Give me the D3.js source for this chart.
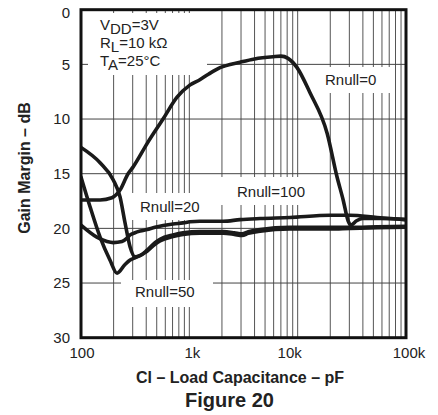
<!DOCTYPE html>
<html><head><meta charset="utf-8">
<script src="https://cdn.jsdelivr.net/npm/d3@7"></script>
<style>
html,body{margin:0;padding:0;background:#fff;}
svg{display:block;font-family:"Liberation Sans",Arial,sans-serif;}
</style></head>
<body><svg id="chart" width="438" height="415"></svg>
<script>
// ---- data ----
const xTickValues = [100, 1000, 10000, 100000];
const xTickLabels = ["100", "1k", "10k", "100k"];
const yTickValues = [0, 5, 10, 15, 20, 25, 30];
const yTickLabels = ["0", "5", "10", "15", "20", "25", "30"];

const capRnull0 = [100, 150, 193, 229, 272, 302, 410, 572, 770, 1010, 1250, 1500, 1920, 2940, 4000, 5930, 7000, 8150, 9870, 13000, 18700, 23100, 26300, 29200, 31000, 35000, 40000, 57700, 100000];
const gainRnull0 = [17.4, 17.4, 17.2, 16.5, 15.0, 14.4, 12.2, 10.0, 8.0, 6.9, 6.4, 5.9, 5.3, 4.8, 4.5, 4.3, 4.25, 4.45, 5.3, 7.6, 11.3, 15.3, 17.4, 19.3, 19.7, 19.3, 19.1, 19.1, 19.2];

const capRnull20 = [100, 140, 174, 198, 239, 266, 284, 315, 351, 407, 482, 707, 874, 1015, 1250, 2050, 2940, 4500, 8500, 19900, 30500, 54100, 100000];
const gainRnull20 = [19.7, 20.8, 21.2, 21.3, 21.2, 20.9, 20.6, 20.4, 20.25, 20.1, 19.9, 19.6, 19.5, 19.4, 19.35, 19.35, 19.2, 19.1, 19.0, 18.8, 18.8, 19.0, 19.2];

const capRnull50 = [100, 121, 150, 185, 215, 255, 284, 315, 407, 482, 536, 707, 874, 1250, 2050, 2600, 3070, 3500, 4500, 8500, 19900, 30500, 54100, 100000];
const gainRnull50 = [15.3, 18.0, 20.8, 22.9, 24.1, 23.3, 22.9, 22.7, 22.1, 21.45, 21.15, 20.75, 20.55, 20.45, 20.45, 20.55, 20.65, 20.45, 20.25, 20.05, 20.05, 20.0, 19.95, 19.9];

const capRnull100 = [100, 150, 198, 229, 255, 284, 315, 350, 407, 482, 536, 707, 874, 1250, 2050, 2600, 3070, 3500, 4500, 8500, 19900, 30500, 54100, 100000];
const gainRnull100 = [12.6, 14.0, 15.55, 17.1, 19.5, 21.7, 22.6, 22.5, 22.0, 21.3, 21.0, 20.6, 20.4, 20.3, 20.3, 20.4, 20.5, 20.3, 20.1, 19.9, 19.9, 19.9, 19.85, 19.8];

const seriesNames = ["Rnull=0", "Rnull=20", "Rnull=50", "Rnull=100"];
const conditionLines = [["V", "DD", "=3V"], ["R", "L", "=10 kΩ"], ["T", "A", "=25°C"]];
const xTitle = "Cl – Load Capacitance – pF";
const yTitle = "Gain Margin – dB";
const figTitle = "Figure 20";

// ---- layout ----
const L = 81, R = 406, T = 9.7, B = 337.7;
const svg = d3.select("#chart");
const x = d3.scaleLog().domain([100, 100000]).range([L, R]);
const y = d3.scaleLinear().domain([0, 30]).range([T, B]);

// grid
const gridX = [];
[100, 1000, 10000].forEach(d => { for (let m = 1; m <= 9; m++) { const v = d * m; if (v > 100) gridX.push(v); } });
const grid = svg.append("g");
grid.selectAll("line.v").data(gridX).join("line")
  .attr("x1", d => x(d)).attr("x2", d => x(d)).attr("y1", T).attr("y2", B)
  .attr("stroke", "#555").attr("stroke-width", 1);
grid.selectAll("line.h").data([5, 10, 15, 20, 25]).join("line")
  .attr("x1", L).attr("x2", R).attr("y1", d => y(d)).attr("y2", d => y(d))
  .attr("stroke", "#444").attr("stroke-width", 1);

// white label boxes covering the grid
const boxes = [
  [88, 13, 119, 62],
  [320, 67, 73, 26],
  [208, 177, 114, 28],
  [125, 193, 87, 27],
  [121, 280, 92, 27]
];
svg.append("g").selectAll("rect").data(boxes).join("rect")
  .attr("x", d => d[0]).attr("y", d => d[1]).attr("width", d => d[2]).attr("height", d => d[3])
  .attr("fill", "#fff");

// curves
svg.append("clipPath").attr("id", "clip").append("rect")
  .attr("x", L).attr("y", T).attr("width", R - L).attr("height", B - T);
const series = [
  [capRnull0, gainRnull0],
  [capRnull20, gainRnull20],
  [capRnull50, gainRnull50],
  [capRnull100, gainRnull100]
].map(([c, g]) => c.map((v, i) => [v, g[i]]));
const line = d3.line().x(d => x(d[0])).y(d => y(d[1])).curve(d3.curveMonotoneX);
svg.append("g").attr("clip-path", "url(#clip)").selectAll("path").data(series).join("path")
  .attr("d", line).attr("fill", "none").attr("stroke", "#1a1a1a")
  .attr("stroke-width", 3.6).attr("stroke-linejoin", "round").attr("stroke-linecap", "round");

// frame
svg.append("rect").attr("x", L).attr("y", T).attr("width", R - L).attr("height", B - T)
  .attr("fill", "none").attr("stroke", "#111").attr("stroke-width", 3);

// series labels
const labelPos = [[325, 80], [140, 207], [135, 292], [237, 192]];
svg.append("g").selectAll("text").data(seriesNames).join("text")
  .attr("x", (d, i) => labelPos[i][0]).attr("y", (d, i) => labelPos[i][1])
  .attr("dy", "0.36em").attr("font-size", 15).attr("fill", "#222").text(d => d);

// conditions
const cond = svg.append("g");
conditionLines.forEach((c, i) => {
  const t = cond.append("text").attr("x", 100).attr("y", 24.5 + i * 18).attr("dy", "0.36em")
    .attr("font-size", 15).attr("fill", "#222");
  t.append("tspan").text(c[0]);
  t.append("tspan").attr("dy", 4).text(c[1]);
  t.append("tspan").attr("dy", -4).text(c[2]);
});

// y ticks
svg.append("g").selectAll("text").data(yTickValues).join("text")
  .attr("x", 70).attr("y", (d) => Math.max(y(d), 12.5)).attr("dy", "0.36em")
  .attr("text-anchor", "end").attr("font-size", 15).attr("fill", "#222")
  .text((d, i) => yTickLabels[i]);

// x ticks
svg.append("g").selectAll("text").data(xTickValues).join("text")
  .attr("x", (d) => x(d) + (d === 10000 ? -8 : (d === 100000 ? 3 : (d === 1000 ? 3 : 1))))
  .attr("y", 353).attr("dy", "0.36em")
  .attr("text-anchor", "middle").attr("font-size", 15).attr("fill", "#222")
  .text((d, i) => xTickLabels[i]);

// titles
svg.append("text").attr("x", 240).attr("y", 377.5).attr("dy", "0.36em")
  .attr("text-anchor", "middle").attr("font-size", 16).attr("font-weight", "bold").attr("fill", "#222")
  .text(xTitle);
svg.append("text").attr("x", 229.5).attr("y", 399.5).attr("dy", "0.36em")
  .attr("text-anchor", "middle").attr("font-size", 20).attr("font-weight", "bold").attr("fill", "#222")
  .text(figTitle);
svg.append("text").attr("transform", "translate(29.5,168) rotate(-90)")
  .attr("text-anchor", "middle").attr("font-size", 16).attr("font-weight", "bold").attr("fill", "#222")
  .text(yTitle);
</script></body></html>
